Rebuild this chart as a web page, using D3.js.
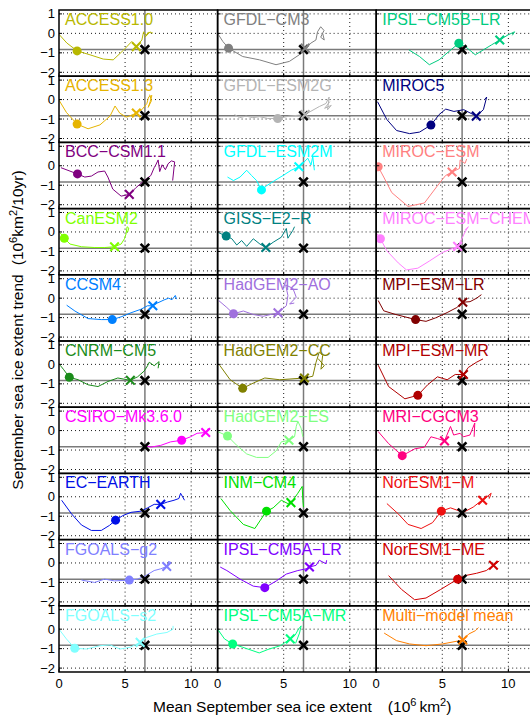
<!DOCTYPE html>
<html>
<head>
<meta charset="utf-8">
<script src="https://cdn.jsdelivr.net/npm/d3@7"></script>
<style>
body { margin: 0; background: #fff; }
svg { font-family: "Liberation Sans", Arial, sans-serif; }
</style>
</head>
<body>
<svg id="chart" width="530" height="717"></svg>
<script>
var models = ["ACCESS1.0", "ACCESS1.3", "BCC\u2212CSM1.1", "CanESM2", "CCSM4", "CNRM\u2212CM5",
  "CSIRO\u2212Mk3.6.0", "EC\u2212EARTH", "FGOALS\u2212g2", "FGOALS\u2212s2",
  "GFDL\u2212CM3", "GFDL\u2212ESM2G", "GFDL\u2212ESM2M", "GISS\u2212E2\u2212R", "HadGEM2\u2212AO",
  "HadGEM2\u2212CC", "HadGEM2\u2212ES", "INM\u2212CM4", "IPSL\u2212CM5A\u2212LR", "IPSL\u2212CM5A\u2212MR",
  "IPSL\u2212CM5B\u2212LR", "MIROC5", "MIROC\u2212ESM", "MIROC\u2212ESM\u2212CHEM", "MPI\u2212ESM\u2212LR",
  "MPI\u2212ESM\u2212MR", "MRI\u2212CGCM3", "NorESM1\u2212M", "NorESM1\u2212ME", "Multi\u2212model mean"];

var colors = ["#b8b800", "#e6b400", "#800080", "#80ff00", "#0080ff", "#1a8c1a",
  "#ff00ff", "#0010e6", "#8080ff", "#80ffff",
  "#808080", "#b4b4b4", "#00ffff", "#008080", "#a070dd",
  "#808000", "#80ff80", "#00e000", "#8000ff", "#00ff80",
  "#00cc80", "#000080", "#ff8080", "#ff80ff", "#800000",
  "#b00000", "#ff0080", "#ee1111", "#d00000", "#ff8000"];

// trajectories: [mean extent, trend]
var curves = [
  [[0,-0.05],[0.6,-0.5],[1.37,-0.9],[2.34,-1.1],[3.35,-1.32],[4.1,-1.36],[4.9,-0.85],[5.5,-0.42],[5.85,-0.68],[6.27,-0.34],[6.4,0.08],[6.6,-0.1],[6.9,0.08],[6.5,-0.2],[6.75,0.05],[7.1,0.02]],
  [[0,-0.03],[0.56,-0.66],[1.37,-1.26],[2.2,-1.5],[3.1,-1.3],[3.86,-0.85],[4.24,-0.33],[4.6,-0.7],[5.1,-0.9],[5.6,-0.77],[5.85,-0.69],[6.27,-0.52],[6.65,-0.2],[6.78,0.13],[7.03,0.21],[6.9,-0.1],[6.75,-0.4],[7.0,-0.05],[6.85,0.25]],
  [[0.15,-0.1],[1.4,-0.42],[1.95,-0.58],[2.45,-0.53],[2.95,-0.32],[3.45,-0.27],[3.7,-0.58],[4.07,-1.2],[4.7,-1.56],[5.32,-1.47],[5.83,-1.12],[6.45,-0.76],[6.95,-0.5],[7.2,-0.1],[7.32,0.04],[7.5,0.3],[7.62,-0.3],[7.8,0.05],[8.05,-0.2],[8.25,0.1],[8.5,0.25],[8.75,0.2],[8.6,-0.76]],
  [[0.08,-0.04],[0.4,-0.32],[0.83,-0.62],[1.7,-0.76],[2.7,-0.8],[3.45,-0.8],[4.2,-0.76],[4.7,-0.62],[4.95,-0.35],[5.08,-0.09],[5.15,0.27],[5.28,0.2],[5.2,0.0],[5.05,0.1]],
  [[0.58,-0.36],[1.2,-0.66],[2.2,-1.05],[3.2,-1.1],[4.03,-1.1],[4.7,-0.96],[5.45,-0.75],[6.2,-0.57],[6.7,-0.39],[7.1,-0.39],[7.45,-0.25],[7.95,-0.09],[8.3,0],[8.55,-0.08],[8.8,0.14],[8.9,-0.05]],
  [[0.08,-0.04],[0.33,-0.25],[0.78,-0.66],[1.45,-0.79],[2.2,-1.05],[2.95,-1.14],[3.7,-0.88],[4.45,-0.7],[5.4,-0.82],[5.95,-0.64],[6.45,-0.34],[6.7,-0.07],[6.83,0.11],[7.2,-0.07],[7.57,0.14],[7.5,-0.2]],
  [[6.5,-0.76],[6.95,-0.85],[7.7,-0.76],[8.45,-0.58],[9.28,-0.5],[9.95,-0.32],[10.45,-0.14],[11.1,-0.1],[11.3,0.12]],
  [[0.2,-0.18],[0.95,-0.88],[1.7,-1.45],[2.45,-1.73],[3.2,-1.73],[3.82,-1.47],[4.28,-1.2],[4.82,-0.97],[5.45,-0.8],[6.2,-0.74],[6.7,-0.57],[7.2,-0.39],[7.7,-0.39],[8.2,-0.27],[8.7,-0.18],[9.07,-0.09],[9.2,0.18],[9.5,-0.18]],
  [[1.7,-0.88],[2.7,-1.0],[3.45,-0.83],[4.2,-0.92],[5.32,-0.88],[5.95,-0.83],[6.57,-0.65],[7.2,-0.39],[7.7,-0.3],[8.15,-0.18],[8.33,0.1],[8.2,-0.25]],
  [[0,0],[0.56,-0.5],[1.19,-0.98],[2.08,-1.02],[3.1,-0.85],[3.86,-0.81],[4.62,-1.02],[5.38,-0.93],[6.14,-0.68],[6.65,-0.42],[7.4,-0.25],[8.17,-0.17],[8.63,0],[8.63,0.17]],
  [[0,0],[0.4,-0.42],[0.83,-0.76],[1.9,-1.19],[3.17,-1.36],[4.42,-1.61],[5.43,-1.44],[6.18,-1.1],[6.63,-0.76],[7.06,-0.5],[7.44,-0.34],[7.56,0.08],[7.8,0.34],[8.05,0.15],[7.8,-0.2],[8.07,-0.34],[7.95,0.0]],
  [[1.28,-0.77],[1.66,-0.93],[2.16,-0.85],[2.66,-0.93],[3.17,-0.88],[3.79,-0.97],[4.55,-0.97],[5.43,-0.85],[6.63,-0.77],[7.06,-0.6],[7.69,-0.36],[8.2,-0.2],[8.44,0.13],[8.32,-0.52],[8.6,-0.3],[8.1,-0.45],[8.5,-0.1]],
  [[0.75,-0.58],[1.2,-0.76],[1.7,-0.58],[2.2,-0.23],[2.57,-0.5],[2.95,-0.76],[3.32,-1.24],[3.7,-1.03],[4.32,-0.76],[4.95,-0.5],[5.57,-0.23],[6.15,-0.05],[6.45,0.12],[6.82,0.39],[7.07,0.04],[7.2,0.48],[7.32,-0.23]],
  [[0.08,-0.04],[0.65,-0.21],[1.08,-0.35],[1.45,-0.67],[1.82,-0.44],[2.2,-0.74],[2.7,-0.35],[3.2,-0.62],[3.65,-0.8],[4.2,-0.53],[4.82,-0.27],[5.2,0.18],[5.32,-0.32],[5.7,0.09],[5.82,0.27]],
  [[0.08,-0.12],[0.7,-0.48],[1.2,-0.8],[1.95,-0.66],[2.7,-0.84],[3.45,-0.93],[4.57,-0.75],[5.2,-0.39],[5.32,0.14],[5.15,0.68],[5.7,0.5],[5.95,0.05],[5.45,-0.3],[5.8,-0.25]],
  [[0.15,-0.04],[0.95,-0.79],[1.9,-1.23],[2.7,-0.96],[3.57,-0.7],[4.7,-0.79],[6.57,-0.7],[7.2,-0.61],[7.45,0.11],[7.7,0.64],[7.95,0.46],[7.82,-0.25],[8.07,-0.07],[7.6,0.3]],
  [[0,-0.05],[0.75,-0.28],[1.45,-0.76],[2.2,-1.2],[2.95,-1.38],[3.82,-1.38],[4.45,-1.03],[4.82,-0.58],[5.4,-0.5],[5.82,-0.32],[5.95,0.21],[6.07,0.48],[6.32,0.12],[6.45,-0.32]],
  [[0.25,-0.09],[0.95,-0.71],[1.95,-1.42],[2.82,-1.63],[3.2,-1.24],[3.7,-0.74],[4.2,-0.57],[4.82,-0.18],[5.32,-0.35],[5.7,-0.18],[6.07,0.18],[6.4,0.53],[6.45,-0.18],[6.5,-0.53]],
  [[0.2,-0.21],[0.7,-0.39],[1.7,-0.83],[2.7,-1.19],[3.57,-1.27],[4.45,-0.92],[5.2,-0.57],[6.07,-0.39],[6.7,-0.3],[6.95,-0.21],[7.45,-0.12],[7.7,0.14],[8.2,-0.04],[8.25,0.14]],
  [[0,0],[0.52,-0.5],[1.14,-0.76],[1.9,-0.93],[3.15,-1.22],[3.9,-1.02],[4.75,-0.85],[5.5,-0.5],[5.87,-0.3],[6.12,0],[6.32,0.17],[6.2,-0.2],[5.9,-0.73]],
  [[2.48,-0.85],[3.28,-1.19],[4.02,-1.61],[4.76,-1.36],[5.5,-0.93],[6.25,-0.51],[6.75,-0.68],[7.5,-1.1],[8.1,-0.85],[8.73,-0.59],[9.35,-0.34],[9.97,-0.08],[10.47,0.08],[10.3,-0.1]],
  [[0.1,-0.11],[0.8,-1.02],[1.54,-1.59],[2.53,-1.75],[3.28,-1.67],[4.14,-1.31],[4.76,-0.77],[5.26,-0.49],[5.88,-0.61],[6.63,-0.52],[7.57,-0.85],[8.11,-0.52],[8.36,0.13],[8.2,0.0]],
  [[0.15,-0.05],[0.57,-0.58],[1.18,-1.38],[2.41,-2.09],[3.65,-1.91],[4.63,-1.03],[5.25,-0.5],[5.74,-0.32],[6.3,-0.14],[6.35,0.3],[6.72,0.12],[6.85,0.35]],
  [[0.07,-0.09],[0.32,-0.35],[0.81,-0.97],[1.67,-1.59],[2.29,-1.95],[3.15,-1.86],[4.01,-1.5],[5.0,-1.06],[6.16,-0.74],[6.48,-0.35],[6.72,0],[6.97,0.27],[6.7,0.1]],
  [[0.15,-0.12],[0.57,-0.65],[1.43,-0.83],[2.98,-1.1],[3.77,-1.19],[4.5,-1.01],[5.37,-0.74],[6.1,-0.48],[6.55,-0.21],[7.1,-0.18],[7.6,0],[7.96,0.18]],
  [[0.15,-0.04],[0.94,-1.14],[2.17,-1.77],[3.15,-1.59],[3.89,-1.05],[4.63,-0.64],[5.37,-0.79],[5.98,-0.52],[6.6,-0.52],[6.97,-0.16],[7.59,0.11],[8.08,0.28]],
  [[0.15,-0.05],[0.94,-0.67],[1.97,-1.29],[2.91,-0.94],[3.65,-0.85],[4.14,-0.32],[4.63,-0.41],[5.17,-0.53],[5.62,0.21],[5.86,-0.23],[6.35,-0.14],[6.6,-0.32],[7.09,-0.23],[7.46,0.39],[7.41,-0.32]],
  [[0.81,-0.35],[1.67,-0.88],[2.41,-1.42],[3.4,-1.63],[4.26,-1.33],[4.93,-0.74],[5.62,-0.57],[6.6,-0.8],[7.34,-0.53],[7.83,-0.27],[8.05,-0.18],[8.7,0.18],[8.55,-0.1]],
  [[0.94,-0.65],[1.92,-1.36],[2.91,-1.89],[3.77,-1.8],[4.88,-1.36],[6.16,-0.83],[6.72,-0.65],[7.59,-0.53],[8.33,-0.39],[8.87,-0.12],[9.31,0.1]],
  [[0.6,-0.2],[1.54,-0.59],[2.53,-0.76],[3.77,-0.85],[5.01,-0.76],[6.55,-0.56],[7.0,-0.25],[7.5,-0.08],[7.74,0.08]]
];

// filled circle on each trajectory
var dots = [[1.37,-0.9],[1.37,-1.26],[1.4,-0.42],[0.4,-0.32],[4.03,-1.1],[0.78,-0.66],
  [9.28,-0.5],[4.28,-1.2],[5.32,-0.88],[1.19,-0.98],
  [0.83,-0.76],[4.55,-0.97],[3.32,-1.24],[0.65,-0.21],[1.2,-0.8],
  [1.9,-1.23],[0.75,-0.28],[3.7,-0.74],[3.57,-1.27],[1.14,-0.76],
  [6.25,-0.51],[4.14,-1.31],[0.15,-0.05],[0.32,-0.35],[2.98,-1.1],
  [3.15,-1.59],[1.97,-1.29],[4.93,-0.74],[6.16,-0.83],null];

// coloured cross on each trajectory
var crosses = [[5.85,-0.68],[5.85,-0.69],[5.32,-1.47],[4.2,-0.76],[7.1,-0.39],[5.4,-0.82],
  [11.1,-0.1],[7.7,-0.39],[8.15,-0.18],[6.14,-0.68],
  [6.63,-0.76],[6.63,-0.77],[6.15,-0.05],[3.65,-0.8],[4.57,-0.75],
  [6.57,-0.7],[5.4,-0.5],[5.55,-0.3],[6.95,-0.21],[5.5,-0.5],
  [9.35,-0.34],[7.57,-0.85],[5.74,-0.32],[6.16,-0.74],[6.55,-0.21],
  [6.6,-0.52],[5.17,-0.53],[8.05,-0.18],[8.87,-0.12],[6.55,-0.56]];

// observations
var obsExtent = 6.5;
var obsTrend = -0.83;

var xTicks = [0, 5, 10];
var yTicks = [-2, -1, 0, 1];

var panelW = 158.6, panelH = 66.2;
var left0 = 59, top0 = 10;

var svg = d3.select("#chart");

var xScale = d3.scaleLinear().domain([0, 12]).range([0, panelW]);
var yScale = d3.scaleLinear().domain([-2.2, 1.2]).range([panelH, 0]);

var line = d3.line()
  .x(function (d) { return xScale(d[0]); })
  .y(function (d) { return yScale(d[1]); });

function crossPath(s) {
  return "M" + (-s) + "," + (-s) + "L" + s + "," + s + "M" + (-s) + "," + s + "L" + s + "," + (-s);
}

svg.append("defs").append("clipPath").attr("id", "clip")
  .append("rect").attr("width", panelW).attr("height", panelH);

models.forEach(function (name, i) {
  var col = Math.floor(i / 10), row = i % 10;
  var g = svg.append("g")
    .attr("transform", "translate(" + (left0 + col * panelW) + "," + (top0 + row * panelH) + ")");

  // dotted grid
  g.selectAll(".gx").data(xTicks.slice(1)).enter().append("line")
    .attr("x1", function (d) { return xScale(d); })
    .attr("x2", function (d) { return xScale(d); })
    .attr("y1", 0).attr("y2", panelH)
    .attr("stroke", "#000").attr("stroke-width", 0.9)
    .attr("stroke-dasharray", "1,3");
  g.selectAll(".gy").data(yTicks).enter().append("line")
    .attr("x1", 0).attr("x2", panelW)
    .attr("y1", function (d) { return yScale(d); })
    .attr("y2", function (d) { return yScale(d); })
    .attr("stroke", "#000").attr("stroke-width", 0.9)
    .attr("stroke-dasharray", "1,3");

  // observed lines
  g.append("line")
    .attr("x1", xScale(obsExtent)).attr("x2", xScale(obsExtent))
    .attr("y1", 0).attr("y2", panelH)
    .attr("stroke", "#7a7a7a").attr("stroke-width", 1.5);
  g.append("line")
    .attr("x1", 0).attr("x2", panelW)
    .attr("y1", yScale(obsTrend)).attr("y2", yScale(obsTrend))
    .attr("stroke", "#7a7a7a").attr("stroke-width", 1.5);

  var inner = g.append("g").attr("clip-path", "url(#clip)");

  inner.append("path")
    .datum(curves[i])
    .attr("d", line)
    .attr("fill", "none")
    .attr("stroke", colors[i])
    .attr("stroke-width", 1)
    .attr("stroke-linejoin", "round");

  // observed point
  inner.append("path")
    .attr("transform", "translate(" + xScale(obsExtent) + "," + yScale(obsTrend) + ")")
    .attr("d", crossPath(4.3))
    .attr("stroke", "#000").attr("stroke-width", 2.6);

  if (dots[i]) {
    inner.append("circle")
      .attr("cx", xScale(dots[i][0]))
      .attr("cy", yScale(dots[i][1]))
      .attr("r", 4.5)
      .attr("fill", colors[i]);
  }
  inner.append("path")
    .attr("transform", "translate(" + xScale(crosses[i][0]) + "," + yScale(crosses[i][1]) + ")")
    .attr("d", crossPath(4.3))
    .attr("stroke", colors[i]).attr("stroke-width", 2.1);

  g.append("text")
    .attr("x", 6).attr("y", 15)
    .attr("fill", colors[i])
    .style("font-size", "16px")
    .text(name);

  // inner ticks
  g.selectAll(".ty").data(yTicks).enter().append("line")
    .attr("x1", 0).attr("x2", 3)
    .attr("y1", function (d) { return yScale(d); })
    .attr("y2", function (d) { return yScale(d); })
    .attr("stroke", "#000");
  g.selectAll(".tx").data(xTicks).enter().append("line")
    .attr("x1", function (d) { return xScale(d); })
    .attr("x2", function (d) { return xScale(d); })
    .attr("y1", panelH).attr("y2", panelH - 3)
    .attr("stroke", "#000");

  g.append("rect")
    .attr("width", panelW).attr("height", panelH)
    .attr("fill", "none").attr("stroke", "#000").attr("stroke-width", 1.5);

  if (col === 0) {
    g.selectAll(".yl").data(yTicks).enter().append("text")
      .attr("x", -4)
      .attr("y", function (d) { return yScale(d) + 4.5; })
      .attr("text-anchor", "end")
      .style("font-size", "13px")
      .text(function (d) { return d < 0 ? "\u2212" + Math.abs(d) : d; });
  }
  if (row === 9) {
    g.selectAll(".xl").data(xTicks).enter().append("text")
      .attr("x", function (d) { return xScale(d); })
      .attr("y", panelH + 16)
      .attr("text-anchor", "middle")
      .style("font-size", "13px")
      .text(function (d) { return d; });
  }
});

// axis titles
var xt = svg.append("text")
  .attr("x", 153).attr("y", 712)
  .style("font-size", "15.5px");
xt.append("tspan").text("Mean September sea ice extent");
xt.append("tspan").attr("dx", 16).text("(10");
xt.append("tspan").attr("dy", -6).style("font-size", "11px").text("6");
xt.append("tspan").attr("dy", 6).attr("dx", 3).text("km");
xt.append("tspan").attr("dy", -6).style("font-size", "11px").text("2");
xt.append("tspan").attr("dy", 6).text(")");

var yt = svg.append("text")
  .attr("transform", "translate(23,330) rotate(-90)")
  .attr("text-anchor", "middle")
  .style("font-size", "15.5px");
yt.append("tspan").text("September sea ice extent trend");
yt.append("tspan").attr("dx", 9).text("(10");
yt.append("tspan").attr("dy", -6).style("font-size", "11px").text("6");
yt.append("tspan").attr("dy", 6).text("km");
yt.append("tspan").attr("dy", -6).style("font-size", "11px").text("2");
yt.append("tspan").attr("dy", 6).text("/10yr)");
</script>
</body>
</html>
